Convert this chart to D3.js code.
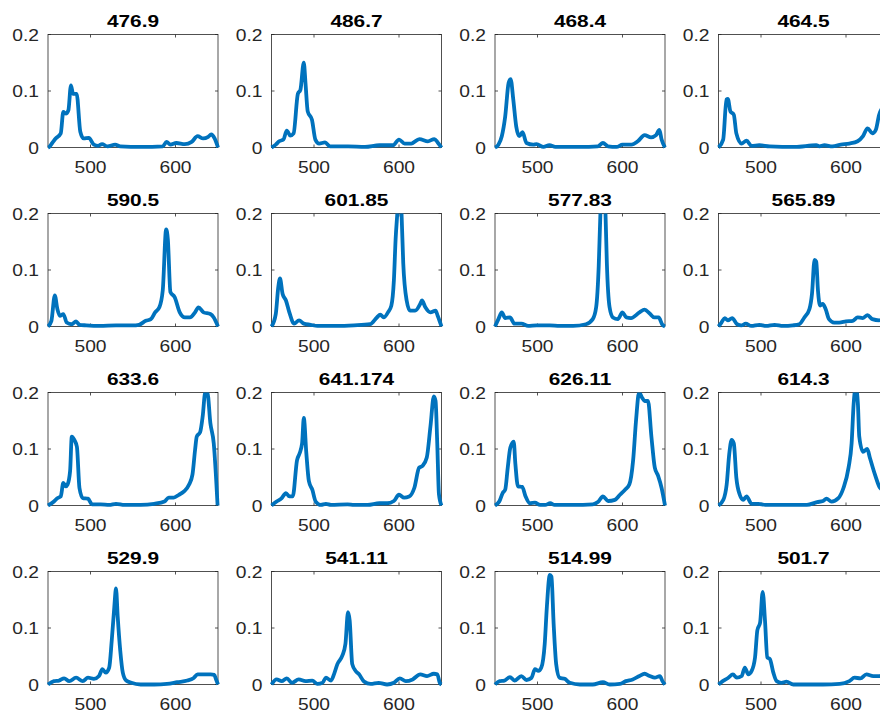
<!DOCTYPE html>
<meta charset="utf-8">
<script src="https://d3js.org/d3.v7.min.js"></script>
<style>
  body { margin: 0; background: #fff; }
  text { font-family: "Liberation Sans", Arial, Helvetica, sans-serif; }
</style>
<div id="chart"></div>
<script>
    // panel titles (peak wavelength), row by row
    var titles = ["476.9", "486.7", "468.4", "464.5",
                  "590.5", "601.85", "577.83", "565.89",
                  "633.6", "641.174", "626.11", "614.3",
                  "529.9", "541.11", "514.99", "501.7"];

    // spectra as [wavelength nm, intensity]
    var s476 = [[450,0],[451.3,0.001],[455,0.008],[459,0.016],[465,0.025],[468,0.063],[471,0.06],[474,0.066],[477,0.11],[479.5,0.095],[483.7,0.095],[488,0.028],[492,0.016],[498,0.017],[504,0.005],[509,0.003],[513.6,0.006],[520,0.002],[529,0.005],[535,0.002],[560,0.001],[585,0.002],[589.5,0.01],[594,0.005],[601,0.008],[611,0.006],[619,0.01],[626,0.02],[632.5,0.016],[638.5,0.019],[642,0.023],[646,0.016],[650,0]];
    var s486 = [[450,0],[455,0.005],[459,0.011],[464,0.014],[468,0.03],[472,0.021],[476,0.025],[481,0.095],[484,0.102],[488,0.15],[490,0.114],[492.6,0.064],[497.6,0.049],[501.6,0.014],[506,0.007],[513,0.009],[519,0.002],[540,0.002],[560,0.001],[577,0.004],[593,0.004],[600,0.014],[606.6,0.007],[614.4,0.007],[624,0.015],[634,0.011],[641.6,0.015],[645.5,0.009],[650,0]];
    var s468 = [[450,0],[454,0.005],[458,0.02],[462,0.055],[466,0.114],[468.4,0.121],[471.5,0.085],[475,0.037],[478.5,0.02],[482.4,0.027],[487,0.008],[495,0.005],[499,0.006],[507,0.001],[514,0.004],[521,0.001],[550,0.001],[571,0.002],[577,0.008],[583,0.002],[593,0.001],[600,0.005],[610.5,0.005],[618,0.011],[626,0.022],[633.6,0.018],[639.5,0.022],[643.4,0.031],[646,0.014],[650,0]];
    var s464 = [[450,0],[455.5,0.014],[459.4,0.085],[461,0.086],[464,0.064],[468,0.058],[471,0.025],[477,0.007],[483,0.012],[488.7,0.003],[498,0.004],[510,0.002],[540,0.001],[565,0.004],[568.8,0.002],[574.6,0.004],[584,0.002],[594,0.005],[604,0.007],[613.7,0.011],[620,0.02],[625.4,0.034],[631,0.025],[635,0.031],[639,0.058],[643,0.07],[646,0.055],[650,0]];
    var s590 = [[450,0],[454,0.01],[458,0.055],[461,0.031],[464,0.019],[468,0.022],[472,0.007],[477.7,0.004],[483,0.009],[487,0.003],[495,0.002],[511,0.001],[530,0.002],[549.6,0.002],[557,0.003],[565,0.01],[571,0.013],[576,0.025],[581,0.034],[585,0.064],[589,0.172],[591,0.154],[594,0.061],[599,0.052],[605,0.025],[611,0.016],[617,0.016],[623,0.025],[627,0.034],[633,0.025],[641,0.022],[645,0.016],[650,0]];
    var s601 = [[450,0],[455,0.022],[458,0.07],[460,0.085],[463,0.058],[467,0.046],[471,0.025],[476.6,0.005],[482.4,0.011],[488,0.005],[496,0.003],[504,0.001],[527,0.001],[547,0.002],[566,0.004],[574,0.016],[578,0.021],[582,0.016],[587,0.025],[591,0.037],[594,0.082],[596,0.154],[598,0.2],[600.5,0.26],[603,0.2],[605,0.112],[609,0.046],[613,0.028],[619,0.028],[625,0.04],[627,0.046],[631,0.034],[637,0.025],[643,0.028],[645.5,0.019],[650,0]];
    var s577 = [[450,0],[454,0.013],[458,0.025],[462,0.015],[467.6,0.016],[473,0.005],[481,0.005],[489,0.001],[499,0.002],[514.5,0.002],[526,0.001],[542,0.001],[557,0.004],[565,0.013],[569,0.034],[572,0.106],[574,0.2],[577,0.28],[580,0.2],[581.6,0.112],[584.8,0.034],[588.7,0.016],[594.5,0.013],[600,0.025],[604.5,0.016],[610,0.015],[620,0.025],[626,0.03],[632,0.023],[637.5,0.016],[642.5,0.016],[647,0.003],[650,0]];
    var s565 = [[450,0],[453.5,0.007],[457.4,0.015],[461,0.011],[466,0.015],[472,0.004],[477,0.002],[482,0.005],[488.6,0.001],[498,0.003],[506,0.001],[516,0.003],[526,0.001],[537.5,0.002],[545,0.004],[551,0.016],[557,0.031],[560,0.058],[563,0.118],[565,0.115],[567,0.064],[569.5,0.037],[572.6,0.04],[576,0.031],[580,0.013],[586,0.007],[592,0.007],[600,0.009],[608,0.01],[613.7,0.016],[619.5,0.015],[625.4,0.02],[631,0.013],[639,0.011],[645,0.014],[650,0]];
    var s633 = [[450,0],[457,0.007],[461,0.013],[465,0.016],[468,0.04],[471,0.034],[473,0.037],[476,0.061],[478,0.122],[481,0.116],[484,0.104],[487,0.031],[491,0.013],[497,0.012],[502,0.002],[512,0.002],[522,0.001],[530,0.003],[540,0.001],[559,0.001],[575,0.003],[587,0.007],[592,0.014],[598,0.014],[604,0.019],[610,0.025],[616,0.037],[620,0.055],[623,0.098],[625,0.122],[629,0.13],[632,0.158],[635,0.2],[637.5,0.2],[641,0.146],[645,0.11],[649.5,0]];
    var s641 = [[450,0],[456,0.007],[462,0.013],[467,0.022],[471,0.016],[475,0.016],[480,0.08],[483,0.092],[486,0.11],[488,0.155],[491,0.092],[494,0.043],[498,0.028],[502,0.007],[508,0.001],[514,0.003],[520,0.001],[539.5,0.002],[547,0.001],[563,0.001],[577,0.004],[586,0.004],[594,0.008],[600,0.019],[606,0.014],[612,0.016],[618,0.031],[623.7,0.067],[627.6,0.07],[632.7,0.085],[637,0.14],[641,0.193],[643,0.185],[645,0.11],[647,0.02],[650,0]];
    var s626 = [[450,0],[455,0.007],[459,0.022],[462,0.028],[465,0.067],[468,0.102],[472,0.113],[474,0.073],[477,0.034],[482,0.033],[486,0.016],[491,0.004],[497,0.005],[503,0.001],[509,0.001],[515,0.004],[520,0.001],[542,0.001],[565,0.002],[571,0.006],[577,0.016],[583,0.008],[591,0.01],[597,0.019],[603,0.028],[608,0.037],[612.5,0.08],[616,0.152],[619.5,0.2],[623.4,0.19],[626,0.185],[630,0.185],[634,0.122],[638,0.067],[642,0.052],[646,0.031],[650,0]];
    var s614 = [[450,0],[455.7,0.01],[459.6,0.037],[462.7,0.092],[465.4,0.116],[468,0.11],[471,0.049],[475,0.019],[479,0.01],[483,0.016],[489,0.003],[497,0.003],[505,0.001],[514.5,0.001],[534,0.001],[554,0.001],[566,0.006],[573,0.008],[577,0.012],[583,0.007],[591,0.013],[597,0.031],[603,0.067],[606.6,0.11],[609,0.18],[611.5,0.21],[614,0.18],[615.6,0.122],[620,0.095],[625,0.1],[628,0.085],[634,0.055],[639,0.034],[644,0.025],[648,0.012],[650,0]];
    var s529 = [[450,0],[457,0.006],[463,0.007],[469,0.011],[475,0.006],[483,0.012],[491,0.006],[497,0.012],[504,0.01],[510,0.015],[514,0.027],[518,0.021],[522,0.03],[525,0.078],[528,0.137],[530,0.17],[532,0.12],[535,0.06],[538,0.021],[542,0.007],[548,0.003],[559,0.0],[575,0.0],[590,0.001],[602,0.004],[614,0.007],[621,0.011],[626,0.018],[634,0.018],[641.5,0.018],[645.5,0.017],[648,0.008],[650,0]];
    var s541 = [[450,0],[456,0.009],[462,0.006],[468,0.011],[474,0.003],[482,0.009],[490,0.006],[498,0.007],[504,0.001],[510,0.003],[514,0.012],[520,0.007],[523.5,0.018],[527.5,0.036],[533.3,0.051],[537,0.072],[540,0.128],[542,0.113],[545,0.036],[549,0.024],[553,0.018],[559,0.005],[566.6,0.001],[576,0.003],[586,0.0],[594,0.003],[601,0.011],[608,0.006],[616,0.009],[625,0.018],[633,0.015],[641,0.019],[645,0.018],[648,0.003],[650,0]];
    var s514 = [[450,0],[455.5,0.006],[461,0.007],[467.6,0.013],[473,0.007],[481,0.015],[487,0.008],[493,0.012],[497,0.027],[501,0.024],[504.5,0.03],[508.5,0.072],[511,0.137],[514.5,0.194],[516.4,0.191],[519,0.107],[522,0.036],[526,0.012],[532,0.01],[538,0.003],[550,0.0],[565,0.0],[577,0.004],[585,0.0],[597,0.001],[604,0.006],[612,0.009],[620,0.015],[626,0.019],[632,0.015],[638,0.012],[644,0.015],[647,0.006],[650,0]];
    var s501 = [[450,0],[455,0.006],[461.6,0.012],[467,0.018],[471.5,0.012],[477.3,0.015],[481,0.03],[485,0.018],[489,0.024],[493,0.048],[495.7,0.096],[499,0.11],[502,0.164],[504.7,0.113],[507.4,0.048],[510.5,0.045],[514.5,0.021],[518.4,0.006],[524,0.003],[530,0.005],[538,0.0],[553.5,0.0],[573,0.0],[592.6,0.001],[604,0.006],[610,0.012],[617,0.011],[624,0.018],[632,0.015],[639.5,0.015],[645,0.016],[648,0.008],[650,0]];

    var spectra = [s476, s486, s468, s464, s590, s601, s577, s565,
                   s633, s641, s626, s614, s529, s541, s514, s501];

    var xTicks = [500, 600];
    var yTicks = [0, 0.1, 0.2];

    // figure + subplot geometry
    var W = 880, H = 713;
    var pw = 170, ph = 113;      // axes box size
    var left0 = 48, dx = 223.5;  // column step
    var top0 = 34.5, dy = 179;   // row step
    var axisColor = "#262626";

    var svg = d3.select("#chart")
      .append("svg")
        .attr("width", W)
        .attr("height", H)
        .style("display", "block");

    var x = d3.scaleLinear().domain([450, 650]).range([0, pw]);
    var y = d3.scaleLinear().domain([0, 0.2]).range([ph, 0]);

    var line = d3.line()
      .x(function(d) { return x(d[0]); })
      .y(function(d) { return y(d[1]); })
      .curve(d3.curveMonotoneX);

    // the source figure's text is wider than Arial, so stretch it a bit
    function label(g, px, py, str, anchor, size, sx, bold, fill) {
      return g.append("text")
        .attr("transform", "translate(" + px + "," + py + ") scale(" + sx + ",1)")
        .attr("text-anchor", anchor)
        .attr("fill", fill)
        .style("font-size", size + "px")
        .style("font-weight", bold ? "bold" : "normal")
        .text(str);
    }

    spectra.forEach(function(data, i) {
      var col = i % 4, row = Math.floor(i / 4);
      var g = svg.append("g")
        .attr("transform", "translate(" + (left0 + col * dx) + "," + (top0 + row * dy) + ")");

      // clip like matlab does at the axes box
      g.append("clipPath")
          .attr("id", "clip" + i)
        .append("rect")
          .attr("x", -2)
          .attr("y", 0)
          .attr("width", pw + 4)
          .attr("height", ph + 3);

      // box
      g.append("rect")
        .attr("width", pw)
        .attr("height", ph)
        .attr("fill", "none")
        .attr("stroke", axisColor)
        .attr("stroke-width", 0.8);

      // inward ticks on all four sides
      xTicks.forEach(function(t) {
        g.append("line").attr("x1", x(t)).attr("x2", x(t)).attr("y1", ph).attr("y2", ph - 3)
          .attr("stroke", axisColor).attr("stroke-width", 0.8);
        g.append("line").attr("x1", x(t)).attr("x2", x(t)).attr("y1", 0).attr("y2", 3)
          .attr("stroke", axisColor).attr("stroke-width", 0.8);
        label(g, x(t), ph + 25, t, "middle", 16.3, 1.18, false, axisColor);
      });
      yTicks.forEach(function(t) {
        g.append("line").attr("x1", 0).attr("x2", 3).attr("y1", y(t)).attr("y2", y(t))
          .attr("stroke", axisColor).attr("stroke-width", 0.8);
        g.append("line").attr("x1", pw).attr("x2", pw - 3).attr("y1", y(t)).attr("y2", y(t))
          .attr("stroke", axisColor).attr("stroke-width", 0.8);
        label(g, -9, y(t) + 6, t === 0 ? "0" : t.toFixed(1), "end", 16.3, 1.18, false, axisColor);
      });

      // spectrum
      g.append("path")
        .datum(data)
        .attr("clip-path", "url(#clip" + i + ")")
        .attr("fill", "none")
        .attr("stroke", "#0072BD")
        .attr("stroke-width", 3.8)
        .attr("stroke-linejoin", "round")
        .attr("d", line);

      // title
      label(g, pw / 2, -8, titles[i], "middle", 16.3, 1.28, true, "#000");
    });
</script>
